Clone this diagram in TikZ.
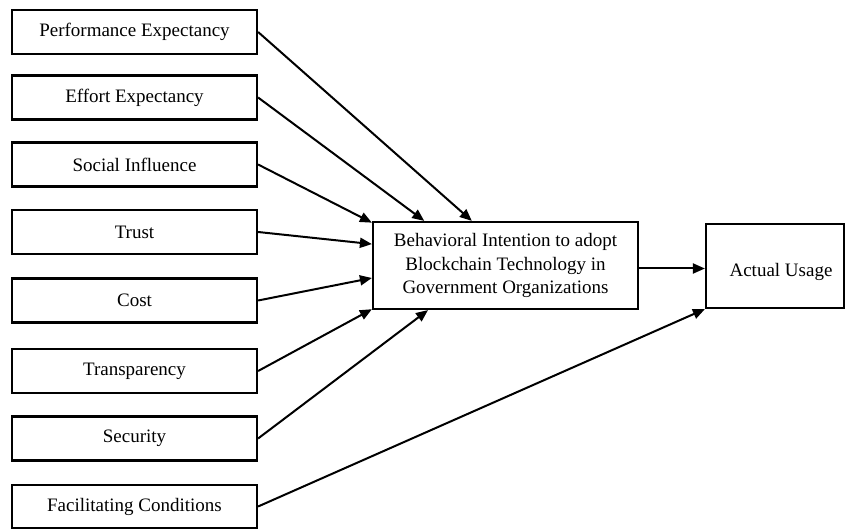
\documentclass[tikz,border=0pt]{standalone}
\usepackage{fontspec}
\setmainfont{Liberation Serif}
\usetikzlibrary{arrows.meta,calc}
\begin{document}
\begin{tikzpicture}[x=1pt,y=-1pt,
  lbox/.style={draw,line width=2.2pt,minimum width=245pt,minimum height=44pt,inner sep=0pt,font=\fontsize{19}{23.3}\selectfont},
  cbox/.style={draw,line width=2.2pt,minimum width=265pt,minimum height=87pt,align=center,inner sep=0pt,font=\fontsize{19}{23.3}\selectfont},
  arr/.style={line width=2pt,-{Triangle[length=12pt,width=10pt]}}]
\useasboundingbox (0,0) rectangle (846,529);
\node[lbox] (pe) at (134.5,32) {Performance Expectancy};
\node[lbox] (ee) at (134.5,97.5) {Effort Expectancy};
\node[lbox] (si) at (134.5,164.5) {Social Influence};
\node[lbox] (tr) at (134.5,232) {Trust};
\node[lbox] (co) at (134.5,300.5) {Cost};
\node[lbox] (tp) at (134.5,371) {Transparency};
\node[lbox] (se) at (134.5,438.5) {Security};
\node[lbox,minimum height=43pt] (fc) at (134.5,506.5) {Facilitating Conditions};
\node[cbox] (bi) at (505.5,265.5) {Behavioral Intention to adopt\\Blockchain Technology in\\Government Organizations};
\node[lbox,minimum width=138pt,minimum height=84pt,text height=25pt,text depth=4pt] (au) at (775,266) {\hspace*{12pt}Actual Usage};
\coordinate (biau) at ($(bi.east)+(0,3)$);
\draw[arr] (pe.east) -- ($(bi.north west)!0.374!(bi.north east)$);
\draw[arr] (ee.east) -- ($(bi.north west)!0.196!(bi.north east)$);
\draw[arr] (si.east) -- ($(bi.north west)!0.02!(bi.south west)$);
\draw[arr] (tr.east) -- ($(bi.north west)!0.26!(bi.south west)$);
\draw[arr] (co.east) -- ($(bi.north west)!0.64!(bi.south west)$);
\draw[arr] (tp.east) -- ($(bi.north west)!0.99!(bi.south west)$);
\draw[arr] (se.east) -- ($(bi.south west)!0.21!(bi.south east)$);
\draw[arr] (fc.east) -- (au.south west);
\draw[arr] (biau) -- (au.west |- biau);
\end{tikzpicture}
\end{document}
